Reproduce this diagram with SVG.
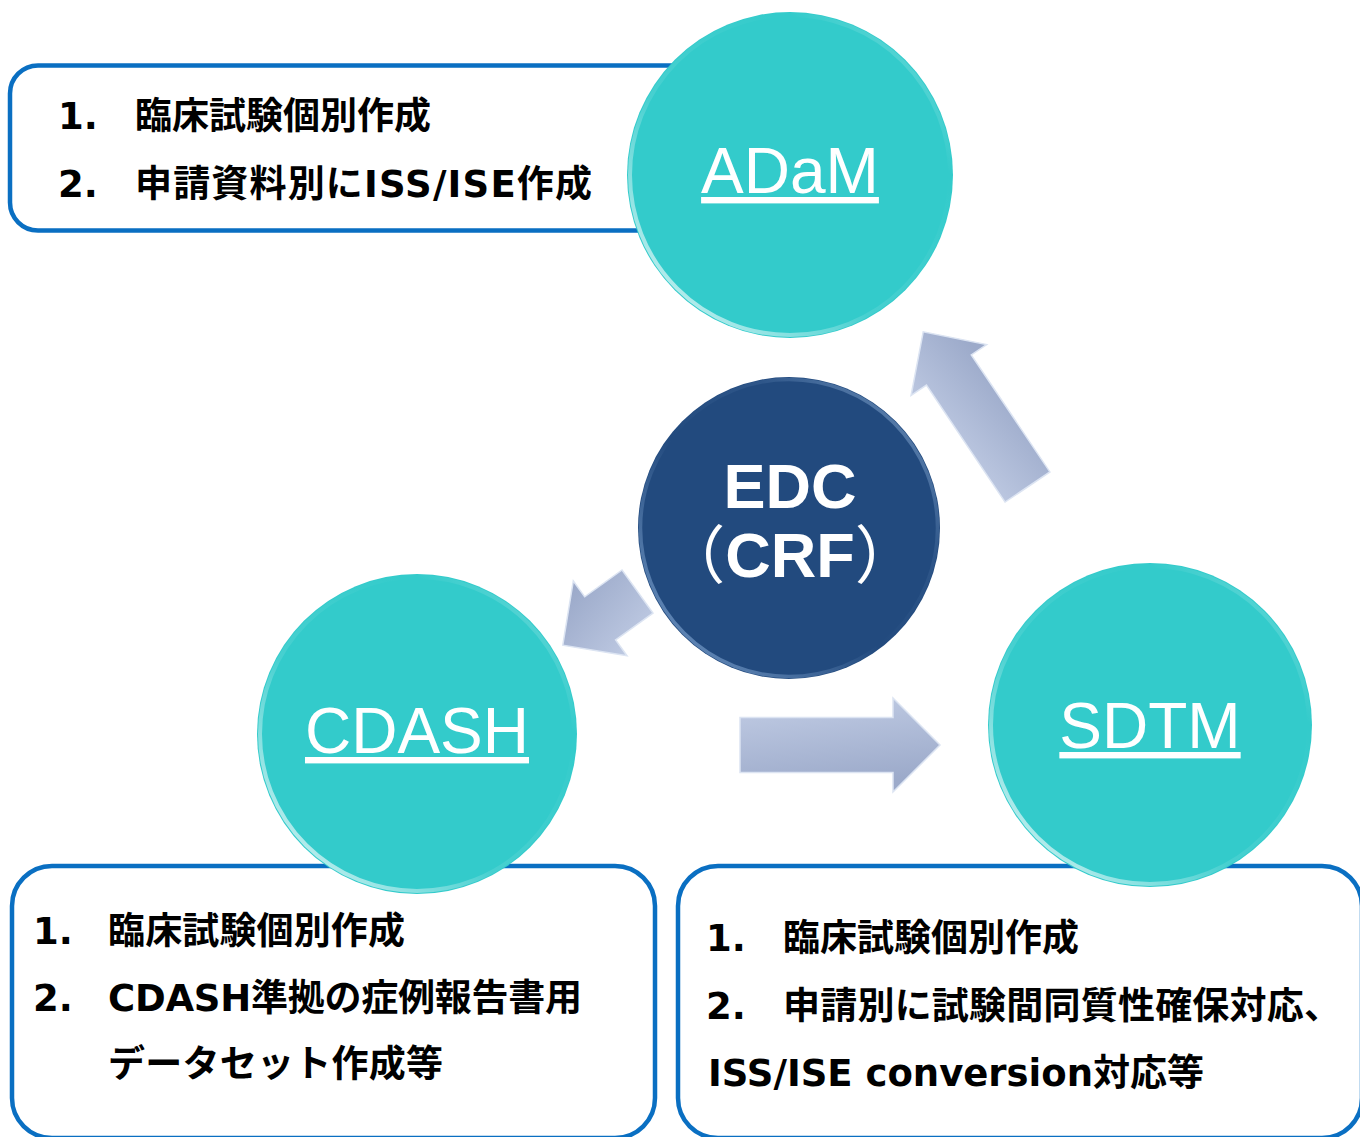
<svg xmlns="http://www.w3.org/2000/svg" width="1360" height="1137" viewBox="0 0 1360 1137">
  <style>
    .box { fill: #FFFFFF; stroke: #0A6FC2; stroke-width: 4.5; }
    .teal { fill: #33CBCB; }
    .rim { fill: none; stroke: url(#rimGrad); stroke-width: 4; }
    .label { font-family: 'Liberation Sans', Arial, sans-serif; font-size: 64px; fill: #FFFFFF; text-anchor: middle; text-decoration: underline; }
    .edc { font-family: 'Liberation Sans', 'Noto Sans CJK JP', Arial, sans-serif; font-weight: bold; font-size: 63px; fill: #FFFFFF; text-anchor: middle; }
    .paren { font-weight: normal; }
    .jp { font-family: 'DejaVu Sans', 'Noto Sans CJK JP', sans-serif; font-weight: bold; font-size: 37px; fill: #000000; }
    .arrow { fill: url(#arrowGrad); stroke: #DCE4F2; stroke-width: 1.5; stroke-linejoin: miter; }
  </style>
  <defs>
    <linearGradient id="rimGrad" x1="0" y1="1" x2="1" y2="0">
      <stop offset="0" stop-color="#FFFFFF" stop-opacity="0.9"/>
      <stop offset="0.4" stop-color="#FFFFFF" stop-opacity="0.1"/>
      <stop offset="0.75" stop-color="#FFFFFF" stop-opacity="0"/>
      <stop offset="1" stop-color="#FFFFFF" stop-opacity="0.35"/>
    </linearGradient>
    <linearGradient id="rimBlue" x1="0" y1="1" x2="1" y2="0">
      <stop offset="0" stop-color="#9CC0EA" stop-opacity="0.7"/>
      <stop offset="0.45" stop-color="#9CC0EA" stop-opacity="0"/>
      <stop offset="0.7" stop-color="#9CC0EA" stop-opacity="0.1"/>
      <stop offset="1" stop-color="#B8D4F2" stop-opacity="0.6"/>
    </linearGradient>
    <linearGradient id="arrowGrad" x1="0" y1="0" x2="0.25" y2="1">
      <stop offset="0" stop-color="#C2CDE5"/>
      <stop offset="1" stop-color="#9CAACA"/>
    </linearGradient>
  </defs>

  <rect width="1360" height="1137" fill="#FFFFFF"/>

  <!-- text boxes -->
  <g id="box-adam">
    <rect class="box" x="10" y="65.5" width="760" height="165" rx="28" ry="28"/>
    <text class="jp" x="58" y="129">1.</text>
    <text class="jp" x="135" y="129" textLength="296" lengthAdjust="spacing">臨床試験個別作成</text>
    <text class="jp" x="58" y="197">2.</text>
    <text class="jp" x="135" y="197" textLength="457" lengthAdjust="spacing">申請資料別にISS/ISE作成</text>
  </g>

  <g id="box-cdash">
    <rect class="box" x="12" y="866" width="643" height="272" rx="40" ry="40"/>
    <text class="jp" x="33" y="944">1.</text>
    <text class="jp" x="108" y="944" textLength="297" lengthAdjust="spacing">臨床試験個別作成</text>
    <text class="jp" x="33" y="1011">2.</text>
    <text class="jp" x="108" y="1011" textLength="474" lengthAdjust="spacing">CDASH準拠の症例報告書用</text>
    <text class="jp" x="108" y="1077" textLength="335" lengthAdjust="spacing">データセット作成等</text>
  </g>

  <g id="box-sdtm">
    <rect class="box" x="678" y="866" width="684" height="272" rx="40" ry="40"/>
    <text class="jp" x="706" y="951">1.</text>
    <text class="jp" x="783" y="951" textLength="296" lengthAdjust="spacing">臨床試験個別作成</text>
    <text class="jp" x="706" y="1019">2.</text>
    <text class="jp" x="783" y="1019" textLength="558" lengthAdjust="spacing">申請別に試験間同質性確保対応、</text>
    <text class="jp" x="708" y="1086" textLength="496" lengthAdjust="spacing">ISS/ISE conversion対応等</text>
  </g>

  <!-- connectors -->
  <g id="connectors">
    <polygon class="arrow" transform="translate(1027.5,487) rotate(-123.9)" points="0,-27 141,-27 141,-45.5 187,0 141,45.5 141,27 0,27"/>
    <polygon class="arrow" transform="translate(637.5,591.5) rotate(144.3)" points="0,-26.5 46,-26.5 46,-46 92,0 46,46 46,26.5 0,26.5"/>
    <polygon class="arrow" transform="translate(740,745)" points="0,-27.5 153,-27.5 153,-47 200,0 153,47 153,27.5 0,27.5"/>
  </g>

  <!-- circle nodes -->
  <g id="node-adam">
    <circle class="teal" cx="790" cy="175" r="163"/>
    <circle class="rim" cx="790" cy="175" r="160"/>
    <text class="label" x="790" y="193">ADaM</text>
  </g>

  <g id="node-edc">
    <circle cx="789" cy="528" r="151" fill="#224A7E"/>
    <circle cx="789" cy="528" r="148.5" fill="none" stroke="url(#rimBlue)" stroke-width="3.5"/>
    <text class="edc" x="790" y="508">EDC</text>
    <text class="edc" x="790" y="577"><tspan class="paren">（</tspan>CRF<tspan class="paren">）</tspan></text>
  </g>

  <g id="node-cdash">
    <circle class="teal" cx="417" cy="734" r="160"/>
    <circle class="rim" cx="417" cy="734" r="157"/>
    <text class="label" x="417" y="753">CDASH</text>
  </g>

  <g id="node-sdtm">
    <circle class="teal" cx="1150" cy="725" r="162"/>
    <circle class="rim" cx="1150" cy="725" r="159"/>
    <text class="label" x="1150" y="748">SDTM</text>
  </g>
</svg>
